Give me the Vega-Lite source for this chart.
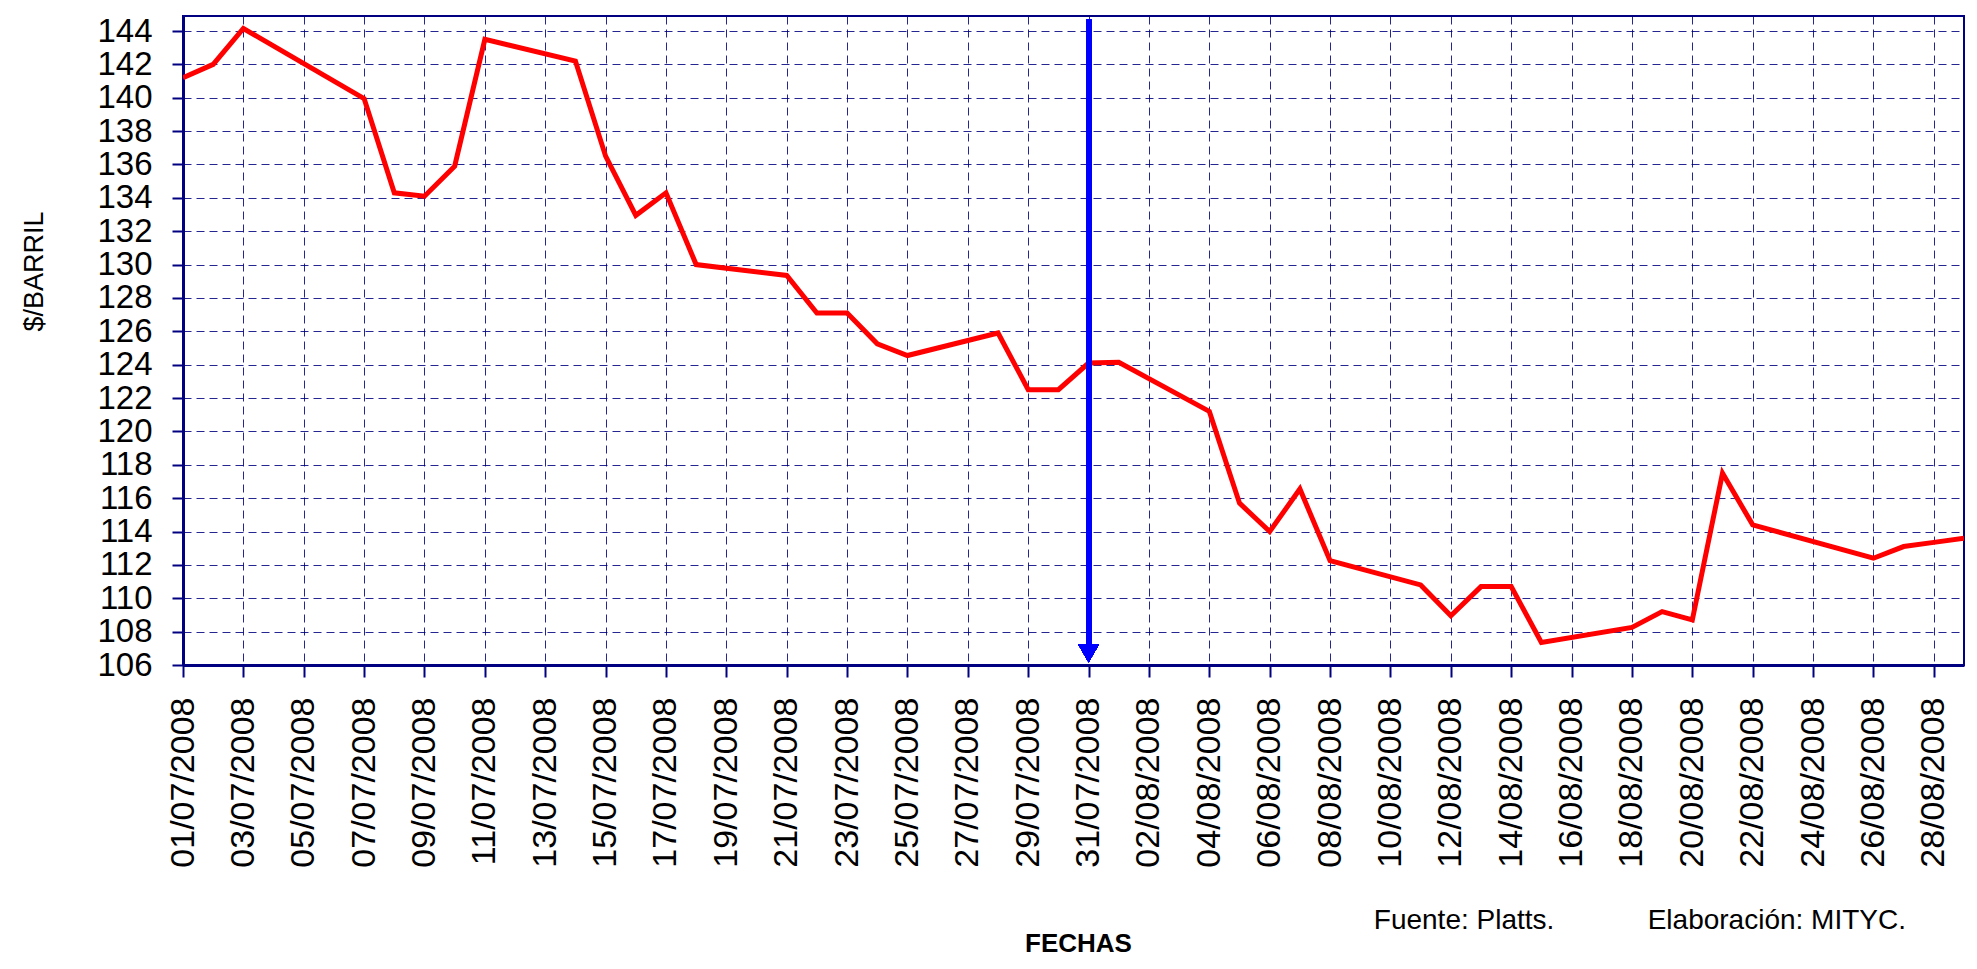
{
  "$schema": "https://vega.github.io/schema/vega-lite/v6.json",
  "width": 1781,
  "height": 649,
  "autosize": {"type": "none"},
  "padding": {"left": 183, "top": 16, "right": 13, "bottom": 304},
  "background": "white",
  "title": {
    "text": "Fuente: Platts.\u00a0\u00a0\u00a0\u00a0\u00a0\u00a0\u00a0\u00a0\u00a0\u00a0\u00a0\u00a0Elaboración: MITYC.",
    "orient": "bottom",
    "anchor": "end",
    "frame": "group",
    "dx": -58,
    "offset": -49,
    "font": "Liberation Sans",
    "fontSize": 28,
    "fontWeight": "normal",
    "color": "black"
  },
  "config": {
    "view": {"stroke": "#000080", "strokeWidth": 2},
    "axis": {
      "labelFont": "Liberation Sans",
      "titleFont": "Liberation Sans",
      "labelColor": "black",
      "titleColor": "black",
      "domainColor": "#000080",
      "tickColor": "#000080",
      "gridColor": "#000080",
      "gridDash": [8, 5],
      "gridWidth": 1,
      "gridOpacity": 0.85,
      "domainWidth": 3,
      "tickWidth": 2,
      "labelOverlap": false
    },
    "axisY": {"labelOverlap": false},
    "axisQuantitative": {"labelOverlap": false}
  },
  "data": {
    "values": [
      {"date": "2008-07-01", "price": 141.2},
      {"date": "2008-07-02", "price": 142.0},
      {"date": "2008-07-03", "price": 144.15},
      {"date": "2008-07-07", "price": 139.95},
      {"date": "2008-07-08", "price": 134.3},
      {"date": "2008-07-09", "price": 134.1},
      {"date": "2008-07-10", "price": 135.9},
      {"date": "2008-07-11", "price": 143.5},
      {"date": "2008-07-14", "price": 142.2},
      {"date": "2008-07-15", "price": 136.5},
      {"date": "2008-07-16", "price": 132.95},
      {"date": "2008-07-17", "price": 134.3},
      {"date": "2008-07-18", "price": 130.0},
      {"date": "2008-07-21", "price": 129.35},
      {"date": "2008-07-22", "price": 127.1},
      {"date": "2008-07-23", "price": 127.1},
      {"date": "2008-07-24", "price": 125.25},
      {"date": "2008-07-25", "price": 124.55},
      {"date": "2008-07-28", "price": 125.9},
      {"date": "2008-07-29", "price": 122.5},
      {"date": "2008-07-30", "price": 122.5},
      {"date": "2008-07-31", "price": 124.1},
      {"date": "2008-08-01", "price": 124.15},
      {"date": "2008-08-04", "price": 121.2},
      {"date": "2008-08-05", "price": 115.7},
      {"date": "2008-08-06", "price": 114.0},
      {"date": "2008-08-07", "price": 116.55},
      {"date": "2008-08-08", "price": 112.25},
      {"date": "2008-08-11", "price": 110.8},
      {"date": "2008-08-12", "price": 108.95},
      {"date": "2008-08-13", "price": 110.7},
      {"date": "2008-08-14", "price": 110.7},
      {"date": "2008-08-15", "price": 107.35},
      {"date": "2008-08-18", "price": 108.25},
      {"date": "2008-08-19", "price": 109.2},
      {"date": "2008-08-20", "price": 108.7},
      {"date": "2008-08-21", "price": 117.5},
      {"date": "2008-08-22", "price": 114.4},
      {"date": "2008-08-26", "price": 112.4},
      {"date": "2008-08-27", "price": 113.1},
      {"date": "2008-08-28", "price": 113.35},
      {"date": "2008-08-29", "price": 113.6}
    ]
  },
  "encoding": {
    "x": {
      "field": "date",
      "type": "temporal",
      "scale": {
        "type": "utc",
        "domain": [
          {"year": 2008, "month": 7, "date": 1, "utc": true},
          {"year": 2008, "month": 8, "date": 29, "utc": true}
        ]
      },
      "axis": {
        "values": [
          {"year": 2008, "month": 7, "date": 1, "utc": true},
          {"year": 2008, "month": 7, "date": 3, "utc": true},
          {"year": 2008, "month": 7, "date": 5, "utc": true},
          {"year": 2008, "month": 7, "date": 7, "utc": true},
          {"year": 2008, "month": 7, "date": 9, "utc": true},
          {"year": 2008, "month": 7, "date": 11, "utc": true},
          {"year": 2008, "month": 7, "date": 13, "utc": true},
          {"year": 2008, "month": 7, "date": 15, "utc": true},
          {"year": 2008, "month": 7, "date": 17, "utc": true},
          {"year": 2008, "month": 7, "date": 19, "utc": true},
          {"year": 2008, "month": 7, "date": 21, "utc": true},
          {"year": 2008, "month": 7, "date": 23, "utc": true},
          {"year": 2008, "month": 7, "date": 25, "utc": true},
          {"year": 2008, "month": 7, "date": 27, "utc": true},
          {"year": 2008, "month": 7, "date": 29, "utc": true},
          {"year": 2008, "month": 7, "date": 31, "utc": true},
          {"year": 2008, "month": 8, "date": 2, "utc": true},
          {"year": 2008, "month": 8, "date": 4, "utc": true},
          {"year": 2008, "month": 8, "date": 6, "utc": true},
          {"year": 2008, "month": 8, "date": 8, "utc": true},
          {"year": 2008, "month": 8, "date": 10, "utc": true},
          {"year": 2008, "month": 8, "date": 12, "utc": true},
          {"year": 2008, "month": 8, "date": 14, "utc": true},
          {"year": 2008, "month": 8, "date": 16, "utc": true},
          {"year": 2008, "month": 8, "date": 18, "utc": true},
          {"year": 2008, "month": 8, "date": 20, "utc": true},
          {"year": 2008, "month": 8, "date": 22, "utc": true},
          {"year": 2008, "month": 8, "date": 24, "utc": true},
          {"year": 2008, "month": 8, "date": 26, "utc": true},
          {"year": 2008, "month": 8, "date": 28, "utc": true}
        ],
        "labelExpr": "utcFormat(datum.value, '%d/%m/%Y')",
        "labelAngle": -90,
        "labelFontSize": 34,
        "labelPadding": 20,
        "labelOverlap": false,
        "labelBound": false,
        "labelFlush": false,
        "tickSize": 12,
        "grid": true,
        "title": "FECHAS",
        "titleFontSize": 26,
        "titleFontWeight": "bold",
        "titleX": 895,
        "titleY": 278,
        "titleBaseline": "middle",
        "titleAlign": "center"
      }
    }
  },
  "layer": [
    {
      "mark": {"type": "line", "color": "#FF0000", "strokeWidth": 5, "clip": true},
      "encoding": {
        "y": {
          "field": "price",
          "type": "quantitative",
          "scale": {"domain": [106, 144.9], "nice": false, "zero": false},
          "axis": {
            "values": [106, 108, 110, 112, 114, 116, 118, 120, 122, 124, 126, 128, 130, 132, 134, 136, 138, 140, 142, 144],
            "labelFontSize": 33,
            "labelPadding": 20,
            "labelOverlap": false,
            "labelBound": false,
            "labelFlush": false,
            "tickSize": 11,
            "grid": true,
            "title": "$/BARRIL",
            "titleFontSize": 27,
            "titleFontWeight": "normal",
            "titleAngle": -90,
            "titleX": -141,
            "titleY": 255,
            "titleAlign": "center",
            "titleBaseline": "alphabetic"
          }
        }
      }
    },
    {
      "mark": {"type": "rule", "color": "#0000FF", "strokeWidth": 5},
      "encoding": {
        "x": {"datum": {"year": 2008, "month": 7, "date": 31, "utc": true}, "type": "temporal"},
        "y": {"datum": 144.7, "type": "quantitative", "axis": {"labelOverlap": false, "values": [106, 108, 110, 112, 114, 116, 118, 120, 122, 124, 126, 128, 130, 132, 134, 136, 138, 140, 142, 144]}},
        "y2": {"datum": 107.0}
      }
    },
    {
      "mark": {"type": "point", "shape": "triangle-down", "filled": true, "color": "#0000FF", "size": 420, "opacity": 1},
      "encoding": {
        "x": {"datum": {"year": 2008, "month": 7, "date": 31, "utc": true}, "type": "temporal"},
        "y": {"datum": 106.7, "type": "quantitative", "axis": {"labelOverlap": false, "values": [106, 108, 110, 112, 114, 116, 118, 120, 122, 124, 126, 128, 130, 132, 134, 136, 138, 140, 142, 144]}}
      }
    }
  ]
}
